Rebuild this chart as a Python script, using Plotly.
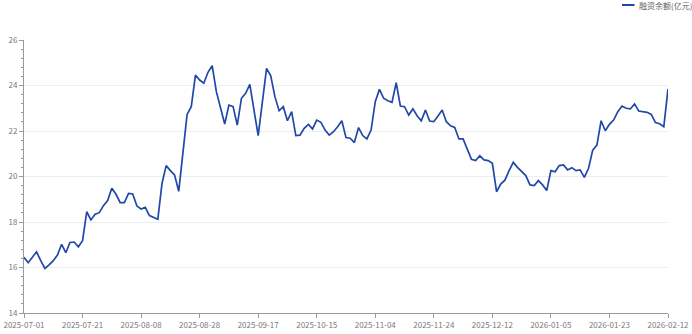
import pandas as pd
import plotly.graph_objects as go

# --- data ---------------------------------------------------------------
holidays = ["2025-10-01", "2025-10-02", "2025-10-03", "2025-10-06",
            "2025-10-07", "2025-10-08", "2026-01-01", "2026-01-02"]
dates = [d.strftime("%Y-%m-%d") for d in pd.bdate_range("2025-07-01", "2026-02-12")
         if d.strftime("%Y-%m-%d") not in holidays]

balance = [
    16.45, 16.21, 16.45, 16.69, 16.30, 15.96, 16.12, 16.30, 16.55, 17.02,
    16.65, 17.10, 17.12, 16.91, 17.18, 18.45, 18.09, 18.34, 18.41, 18.72,
    18.94, 19.48, 19.22, 18.85, 18.85, 19.26, 19.23, 18.70, 18.57, 18.64,
    18.28, 18.19, 18.12, 19.70, 20.48, 20.26, 20.07, 19.35, 21.05, 22.73,
    23.07, 24.46, 24.24, 24.10, 24.58, 24.87, 23.73, 23.03, 22.31, 23.14,
    23.07, 22.26, 23.44, 23.66, 24.05, 22.92, 21.80, 23.27, 24.75, 24.43,
    23.51, 22.89, 23.07, 22.45, 22.85, 21.80, 21.82, 22.12, 22.29, 22.09,
    22.48, 22.38, 22.04, 21.82, 21.97, 22.19, 22.45, 21.71, 21.68, 21.49,
    22.15, 21.80, 21.65, 22.04, 23.29, 23.83, 23.44, 23.33, 23.26, 24.12,
    23.10, 23.07, 22.70, 22.97, 22.67, 22.45, 22.92, 22.44, 22.41, 22.66,
    22.92, 22.41, 22.23, 22.16, 21.65, 21.65, 21.21, 20.76, 20.70, 20.91,
    20.73, 20.70, 20.58, 19.33, 19.67, 19.84, 20.26, 20.62, 20.40, 20.21,
    20.04, 19.63, 19.60, 19.82, 19.63, 19.38, 20.26, 20.21, 20.48, 20.51,
    20.29, 20.39, 20.26, 20.29, 19.96, 20.36, 21.16, 21.38, 22.45, 22.01,
    22.29, 22.48, 22.85, 23.10, 23.00, 22.97, 23.19, 22.88, 22.84, 22.82,
    22.73, 22.37, 22.32, 22.19, 23.85,
]

tick_labels = ["2025-07-01", "2025-07-21", "2025-08-08", "2025-08-28",
               "2025-09-17", "2025-10-15", "2025-11-04", "2025-11-24",
               "2025-12-12", "2026-01-05", "2026-01-23", "2026-02-12"]
y_ticks = [14, 16, 18, 20, 22, 24, 26]
series_name = "融资余额(亿元)"

# --- figure -------------------------------------------------------------
W, H = 692, 334
ML, MR, MT, MB = 24, 24, 40, 21
PW, PH = W - ML - MR, H - MT - MB
LINE = "#2148a8"
FONT = "Noto Sans CJK SC, Noto Sans, sans-serif"
LABEL = "#7a7a7a"
AXIS = "#9a9a9a"

fig = go.Figure(go.Scatter(
    x=dates, y=balance, mode="lines", name=series_name,
    line=dict(color=LINE, width=1.7), showlegend=False,
))

fig.update_layout(
    width=W, height=H,
    margin=dict(l=ML, r=MR, t=MT, b=MB, autoexpand=False),
    paper_bgcolor="white", plot_bgcolor="white",
    font=dict(family=FONT, size=8, color=LABEL),
)
fig.update_xaxes(
    type="category", range=[0, len(dates) - 1], automargin=False,
    tickmode="array", tickvals=tick_labels, ticktext=tick_labels,
    showgrid=False, showline=True, linecolor=AXIS, linewidth=1,
    ticks="outside", ticklen=4, tickcolor=AXIS, tickangle=0,
    tickfont=dict(size=8, color=LABEL, family=FONT),
    zeroline=False,
)
fig.update_yaxes(
    range=[14, 26], tickvals=y_ticks, automargin=False,
    showgrid=True, gridcolor="#eceef5", gridwidth=1,
    showline=True, linecolor=AXIS, linewidth=1,
    ticks="outside", ticklen=4, tickcolor=AXIS,
    minor=dict(dtick=0.4, ticks="outside", ticklen=2, tickcolor=AXIS, showgrid=False),
    tickfont=dict(size=8, color=LABEL, family=FONT),
    zeroline=False,
)

def px_x(p):
    return (p - ML) / PW

def px_y(p):
    return (H - MB - p) / PH

fig.add_shape(type="line", xref="paper", yref="paper",
              x0=px_x(622), x1=px_x(634.5), y0=px_y(5), y1=px_y(5),
              line=dict(color=LINE, width=2))
fig.add_annotation(text=series_name, xref="paper", yref="paper",
                   x=px_x(637), y=px_y(5.5), xanchor="left", yanchor="middle",
                   showarrow=False, font=dict(size=8, color="#666666", family=FONT))

fig.write_html("out.html")
